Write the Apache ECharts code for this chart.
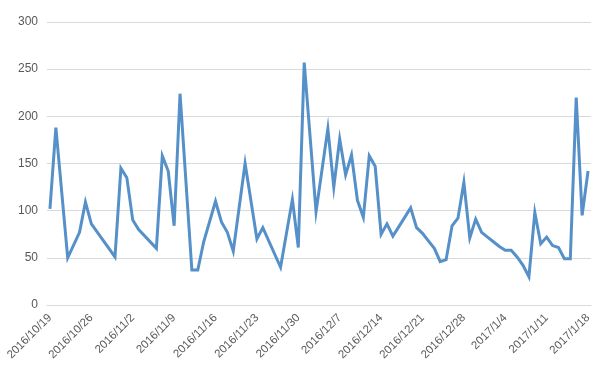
<!DOCTYPE html>
<html>
<head>
<meta charset="utf-8">
<script src="https://cdn.jsdelivr.net/npm/echarts@6/dist/echarts.min.js"></script>
<style>html,body{margin:0;padding:0;background:#fff;}#c{width:599px;height:367px;}</style>
</head>
<body>
<div id="c"></div>
<script>
// start date of the daily category axis and number of days
const startDate = [2016, 10, 19];
const dayCount = 92;
// daily values (null = no observation that day; the line connects across)
const values = [
  102, 188, null, 50, null, 77, 109, 86, null, null,
  null, 51, 145, 135, 90, 80, null, null, 60, 158,
  142, 84, 224, null, 37, 37, 67, null, 110, 88,
  77, 57, null, 150, null, 70, 82, null, null, 40,
  null, 112, 61, 257, null, 99, null, 187, 125, 176,
  138, 159, 111, 93, 158, 147, 75, 86, 73, null,
  null, 103, 82, 76, 68, 60, 46, 48, 84, 92,
  130, 71, 91, 77, 72, 67, 62, 58, 58, 51,
  42, 30, 98, 65, 72, 63, 61, 49, 49, 220,
  95, 142
];
const yTicks = [0, 50, 100, 150, 200, 250, 300];

const categories = [];
for (let i = 0; i < dayCount; i++) {
  const d = new Date(startDate[0], startDate[1] - 1, startDate[2] + i);
  categories.push(d.getFullYear() + '/' + (d.getMonth() + 1) + '/' + d.getDate());
}

const chart = echarts.init(document.getElementById('c'), null, {renderer: 'canvas'});
chart.setOption({
  animation: false,
  grid: {left: 47, right: 8, top: 22, bottom: 62},
  xAxis: {
    type: 'category',
    data: categories,
    boundaryGap: true,
    axisLine: {show: true, lineStyle: {color: '#d9d9d9', width: 1}},
    axisTick: {show: false},
    axisLabel: {
      interval: 6,
      rotate: 45,
      color: '#595959',
      fontSize: 11.5,
      fontFamily: 'Liberation Sans',
      margin: 11
    },
    splitLine: {show: false}
  },
  yAxis: {
    type: 'value',
    min: yTicks[0],
    max: yTicks[yTicks.length - 1],
    interval: 50,
    axisLine: {show: false},
    axisTick: {show: false},
    axisLabel: {color: '#595959', fontSize: 12, fontFamily: 'Liberation Sans', margin: 9},
    splitLine: {lineStyle: {color: '#d9d9d9', width: 1}}
  },
  series: [{
    type: 'line',
    data: values,
    connectNulls: true,
    showSymbol: false,
    symbol: 'none',
    lineStyle: {color: '#5590c8', width: 3, join: 'miter'},
    itemStyle: {color: '#5590c8'}
  }]
});
</script>
</body>
</html>
